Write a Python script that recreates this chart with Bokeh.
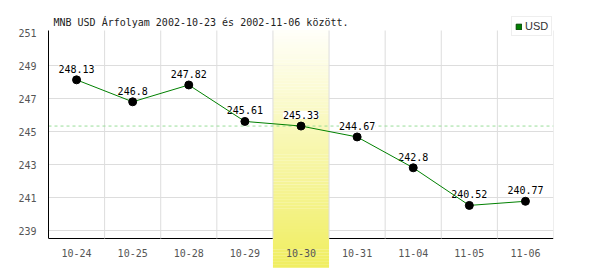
from bokeh.plotting import figure
from bokeh.models import Range1d, FixedTicker, Legend, LegendItem
from bokeh.core.properties import value
from bokeh.embed import file_html
from bokeh.resources import INLINE

# ---- data ----
dates = ["10-24", "10-25", "10-28", "10-29", "10-30", "10-31", "11-04", "11-05", "11-06"]
rates = [248.13, 246.8, 247.82, 245.61, 245.33, 244.67, 242.8, 240.52, 240.77]
rate_labels = ["248.13", "246.8", "247.82", "245.61", "245.33", "244.67", "242.8", "240.52", "240.77"]
y_ticks = [239, 241, 243, 245, 247, 249, 251]
highlight_date = "10-30"
series_name = "USD"
title_text = "MNB USD Árfolyam 2002-10-23 és 2002-11-06 között."

# ---- layout / style ----
W, H = 600, 270
PX_PER_UNIT = 16.5
Y_TOP_TICK_PX = 32          # pixel row of the 251 tick
Y1 = y_ticks[-1] + Y_TOP_TICK_PX / PX_PER_UNIT
Y0 = Y1 - H / PX_PER_UNIT


def v_at(py):
    return Y1 - py / PX_PER_UNIT


AX_TOP = v_at(30)
AX_BOT = v_at(238)
BAND_TOP = v_at(29.5)
BAND_BOT = v_at(267)
MONO = "DejaVu Sans Mono"

n = len(dates)
xs = list(range(n))
hi = dates.index(highlight_date)

p = figure(width=W, height=H, x_range=Range1d(-0.5, n - 0.5), y_range=Range1d(Y0, Y1),
           x_axis_location=None, toolbar_location=None, output_backend="svg",
           min_border_left=48, min_border_right=47, min_border_top=0, min_border_bottom=0)
p.outline_line_color = None
p.background_fill_color = "white"
p.border_fill_color = "white"
for g in p.xgrid:
    g.visible = False

# y axis
ax = p.yaxis[0]
ax.ticker = FixedTicker(ticks=y_ticks)
ax.bounds = (AX_BOT, AX_TOP)
ax.axis_line_color = "black"
ax.axis_line_width = 1
ax.major_tick_line_color = None
ax.minor_tick_line_color = None
ax.major_label_text_font = MONO
ax.major_label_text_font_size = "10px"
ax.major_label_text_color = "#555555"
ax.major_label_standoff = 6

# horizontal grid
p.ygrid.ticker = FixedTicker(ticks=y_ticks[:-1])
p.ygrid.grid_line_color = "#dddddd"
p.ygrid.grid_line_width = 1

# bottom axis line (drawn before the band, which covers it)
p.segment(x0=[-0.5], x1=[n - 0.5], y0=[AX_BOT], y1=[AX_BOT], line_color="black", line_width=1)

# highlight band with vertical gradient (white -> yellow)
N = 80
top_c = (255, 255, 250)
bot_c = (240, 238, 96)
step = (BAND_TOP - BAND_BOT) / N
bt, bb, cols = [], [], []
for i in range(N):
    f = (i + 0.5) / N
    c = tuple(int(round(top_c[k] + (bot_c[k] - top_c[k]) * f)) for k in range(3))
    bt.append(BAND_TOP - i * step)
    bb.append(BAND_TOP - (i + 1) * step - 0.01)
    cols.append("#%02x%02x%02x" % c)
p.quad(left=[hi - 0.5] * N, right=[hi + 0.5] * N, top=bt, bottom=bb, fill_color=cols, line_color=None)

# vertical grid lines at category boundaries
bx = [i + 0.5 for i in range(n)]
p.segment(x0=bx, x1=bx, y0=[AX_BOT] * n, y1=[AX_TOP] * n, line_color="#dddddd", line_width=1)

# dashed reference line at the highlighted value
p.segment(x0=[-0.5], x1=[n - 0.5], y0=[rates[hi]], y1=[rates[hi]],
          line_color="#99dd99", line_width=1, line_dash="3 3")

# value labels
p.text(x=xs, y=rates, text=rate_labels, text_align="center", text_baseline="bottom",
       x_offset=0, y_offset=-7, text_font=value(MONO), text_font_size="10px", text_color="black",
       background_fill_color="white")

# x tick labels
p.text(x=xs, y=[AX_BOT] * n, text=dates, text_align="center", text_baseline="alphabetic",
       y_offset=14, text_font=value(MONO), text_font_size="10px", text_color="#555555")

# title
p.text(x=[-0.5], y=[v_at(22)], text=[title_text], x_offset=5, text_align="left",
       text_baseline="alphabetic", text_font=value(MONO), text_font_size="10px", text_color="#222222")

# series
p.line(xs, rates, line_color="#008000", line_width=1)
p.scatter(xs, rates, size=8, fill_color="black", line_color="black")

# legend (swatch renderer placed off-screen so only the legend swatch shows)
leg_r = p.quad(left=[-9], right=[-8], top=[Y0 - 5], bottom=[Y0 - 6],
               fill_color="#008000", line_color="#004400")
legend = Legend(items=[LegendItem(label=series_name, renderers=[leg_r])], location=(463, 234),
                orientation="vertical", padding=3, margin=0, spacing=0,
                glyph_width=7, glyph_height=7, label_standoff=3, label_height=10,
                label_text_font="Liberation Sans", label_text_font_size="11px",
                label_text_color="#333333", border_line_color="#dddddd",
                background_fill_color="white", background_fill_alpha=1.0)
p.add_layout(legend, "center")

open("out.html", "w").write(file_html(p, INLINE))
